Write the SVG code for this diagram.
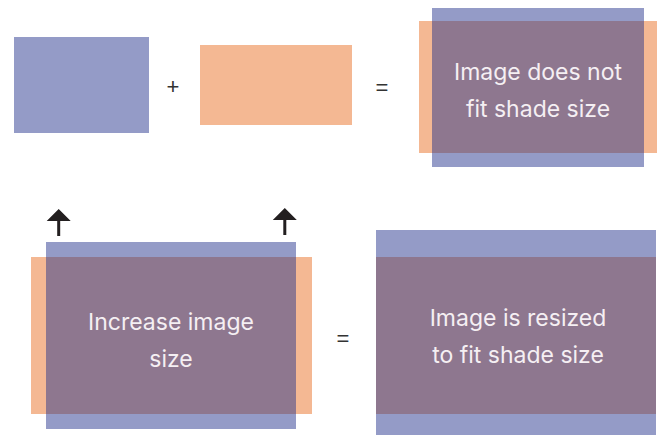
<svg xmlns="http://www.w3.org/2000/svg" width="660" height="435" viewBox="0 0 660 435">
  <style>
    .blue { fill: #949BC7; }
    .orange { fill: #F4B893; }
    .purple { fill: #8E778F; }
    .label { font-family: Inter, "Noto Sans", "Liberation Sans", sans-serif; font-size: 23px; fill: #F5EFF3; text-anchor: middle; }
    .op { font-family: "Liberation Sans", Inter, sans-serif; font-size: 22px; fill: #333333; text-anchor: middle; }
    .arrow { fill: #231F20; }
  </style>
  <rect width="660" height="435" fill="#FFFFFF"/>
  <g id="image">
    <rect class="blue" x="14" y="37" width="135" height="96"/>
  </g>
  <text id="plus" class="op" x="173" y="94">+</text>
  <g id="shade">
    <rect class="orange" x="200" y="45" width="152" height="80"/>
  </g>
  <text id="equals1" class="op" x="382" y="95">=</text>
  <g id="not-fit">
    <rect class="orange" x="419" y="21" width="238" height="132"/>
    <rect class="blue" x="432" y="8" width="212" height="159"/>
    <rect class="purple" x="432" y="21" width="212" height="132"/>
    <text class="label" x="538" y="80">Image does not</text>
    <text class="label" x="538" y="117">fit shade size</text>
  </g>
  <g id="increase">
    <rect class="orange" x="31" y="257" width="281" height="157"/>
    <rect class="blue" x="46" y="242" width="250" height="187"/>
    <rect class="purple" x="46" y="257" width="250" height="157"/>
    <text class="label" x="171" y="330">Increase image</text>
    <text class="label" x="171" y="367">size</text>
  </g>
  <g id="connectors">
    <path class="arrow" d="M58.7 209 L70.7 221 L60.2 221 L60.2 236 L57.2 236 L57.2 221 L46.7 221 Z"/>
    <path class="arrow" d="M284.8 208 L296.8 220 L286.3 220 L286.3 235 L283.3 235 L283.3 220 L272.8 220 Z"/>
  </g>
  <text id="equals2" class="op" x="343" y="346">=</text>
  <g id="resized">
    <rect class="blue" x="376" y="230" width="280" height="205"/>
    <rect class="purple" x="376" y="257" width="280" height="157"/>
    <text class="label" x="518" y="326">Image is resized</text>
    <text class="label" x="518" y="363">to fit shade size</text>
  </g>
</svg>
